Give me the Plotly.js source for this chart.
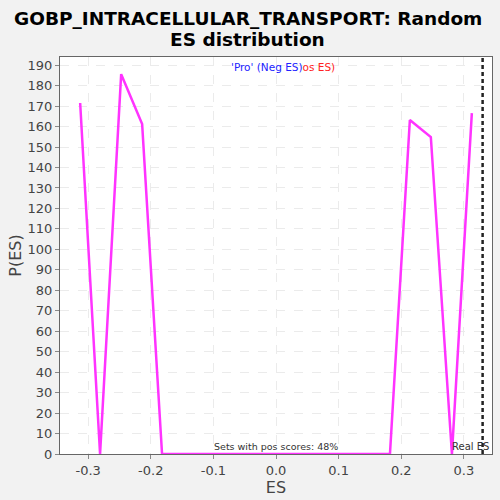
<!DOCTYPE html>
<html><head><meta charset="utf-8">
<script src="https://cdn.plot.ly/plotly-3.0.1.min.js"></script>
<style>html,body{margin:0;padding:0;background:#f2f2f2;}#chart{width:500px;height:500px;}</style>
</head><body><div id="chart"></div>
<script>
const esValues = [-0.3128, -0.281, -0.2473, -0.2138, -0.182, -0.149, -0.116, -0.083, -0.050, -0.017, 0.017, 0.050, 0.083, 0.116, 0.149, 0.182, 0.2138, 0.2473, 0.281, 0.3128];
const pValues  = [171.5, 0, 185.6, 161.2, 0, 0, 0, 0, 0, 0, 0, 0, 0, 0, 0, 0, 163.2, 154.9, 0, 166.6];
const realES = 0.330;
const xTicks = [-0.3, -0.2, -0.1, 0.0, 0.1, 0.2, 0.3];
const xTickLabels = ["-0.3", "-0.2", "-0.1", "0.0", "0.1", "0.2", "0.3"];
const yTicks = [0,10,20,30,40,50,60,70,80,90,100,110,120,130,140,150,160,170,180,190];
const titleLines = ["GOBP_INTRACELLULAR_TRANSPORT: Random", "ES distribution"];

const traces = [{
  x: esValues, y: pValues, type: 'scatter', mode: 'lines',
  line: {color: '#ff33ff', width: 2.5}, hoverinfo: 'skip', showlegend: false
}];

const titleFont = {family: 'DejaVu Sans', size: 18.5, color: '#000'};
const layout = {
  width: 500, height: 500,
  paper_bgcolor: '#f2f2f2', plot_bgcolor: '#ffffff',
  margin: {l: 60, r: 8, t: 57, b: 46},
  xaxis: {range: [-0.345, 0.345], tickvals: xTicks, ticktext: xTickLabels,
          showgrid: true, gridcolor: '#ebebeb', griddash: 'dash', zeroline: false,
          showline: true, linecolor: '#666', mirror: true, ticks: 'outside', ticklen: 4, tickcolor: '#888',
          tickfont: {family: 'DejaVu Sans', size: 13, color: '#444'},
          title: {text: 'ES', font: {family: 'DejaVu Sans', size: 16, color: '#444'}, standoff: 4}},
  yaxis: {range: [0, 194], tickvals: yTicks,
          showgrid: true, gridcolor: '#ebebeb', griddash: 'dash', zeroline: false,
          showline: true, linecolor: '#666', mirror: true, ticks: 'outside', ticklen: 4, tickcolor: '#888',
          tickfont: {family: 'DejaVu Sans', size: 13, color: '#444'},
          title: {text: 'P(ES)', font: {family: 'DejaVu Sans', size: 16, color: '#444'}, standoff: 1}},
  shapes: [{type: 'line', xref: 'x', yref: 'paper', x0: realES, x1: realES, y0: 0, y1: 1,
            line: {color: '#222', width: 2.5, dash: '4px,3px'}}],
  annotations: [
    {xref: 'paper', yref: 'paper', x: 0.435, y: 1.097, xanchor: 'center', yanchor: 'middle', showarrow: false,
     text: '<b>' + titleLines[0] + '</b>', font: titleFont},
    {xref: 'paper', yref: 'paper', x: 0.435, y: 1.043, xanchor: 'center', yanchor: 'middle', showarrow: false,
     text: '<b>' + titleLines[1] + '</b>', font: titleFont},
    {xref: 'paper', yref: 'paper', x: 0.391, y: 0.975, xanchor: 'left', yanchor: 'middle', showarrow: false,
     text: "<span style='color:#2222ff'>'Pro' (Neg ES)</span><span style='color:#ff2222'>os ES)</span>",
     font: {family: 'DejaVu Sans', size: 10.5, color: '#2222ff'}},
    {xref: 'x', yref: 'paper', x: 0, y: 0.0, xanchor: 'center', yanchor: 'bottom', showarrow: false,
     text: 'Sets with pos scores: 48%', font: {family: 'DejaVu Sans', size: 9.5, color: '#333'}},
    {xref: 'paper', yref: 'paper', x: 0.997, y: 0.0, xanchor: 'right', yanchor: 'bottom', showarrow: false,
     text: 'Real ES', font: {family: 'DejaVu Sans', size: 10, color: '#333'}}
  ]
};
Plotly.newPlot('chart', traces, layout, {displayModeBar: false, staticPlot: true});
</script></body></html>
